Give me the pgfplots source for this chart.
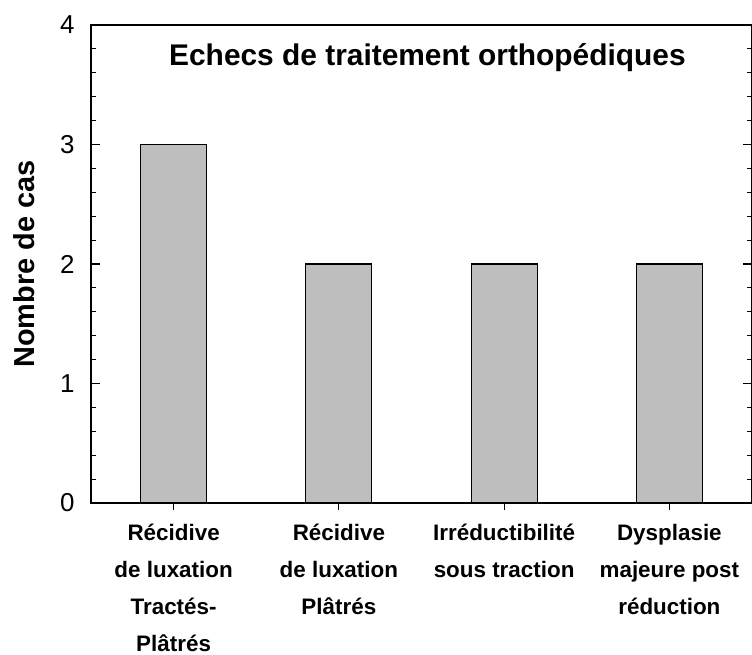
\documentclass[border=0pt]{standalone}
\usepackage{pgfplots}
\pgfplotsset{compat=1.18}
\usepackage{fontspec}
\setmainfont{Liberation Sans}
\definecolor{bargray}{RGB}{190,190,190}
\begin{document}
\begin{tikzpicture}
\begin{axis}[
  scale only axis,
  width=661bp, height=478bp,
  xmin=-0.5, xmax=3.5, ymin=0, ymax=4,
  axis line style={line width=1.3pt},
  xtick={0,1,2,3},
  xticklabels={R\'ecidive\\de luxation\\Tract\'es-\\Pl\^atr\'es,
               R\'ecidive\\de luxation\\Pl\^atr\'es,
               Irr\'eductibilit\'e\\sous traction,
               Dysplasie\\majeure post\\r\'eduction},
  xtick pos=bottom,
  ytick={0,1,2,3,4},
  minor y tick num=4,
  ytick pos=both,
  tick align=inside,
  major tick length=9bp,
  minor tick length=5bp,
  tick style={line width=1.1pt, black},
  xtick style={yshift=-7bp},
  /pgf/number format/assume math mode=true,
  yticklabel style={font=\fontsize{26}{28}\selectfont, xshift=-13bp},
  xticklabel style={font=\bfseries\fontsize{22.5}{37}\selectfont, align=center, yshift=-18bp},
  clip=false,
]
\addplot[ybar, bar width=66bp, fill=bargray, draw=black, line width=1.1pt]
  coordinates {(0,3) (1,2) (2,2) (3,2)};
\node[font=\bfseries\fontsize{30}{32}\selectfont] at (rel axis cs:0.509,0.931) {Echecs de traitement orthop\'ediques};
\node[font=\bfseries\fontsize{29}{31}\selectfont, rotate=90] at (rel axis cs:-0.1010,0.5) {Nombre de cas};
\coordinate (SW) at (rel axis cs:0,0);
\coordinate (NE) at (rel axis cs:1,1);
\end{axis}
\pgfresetboundingbox
\useasboundingbox ([shift={(-91bp,-152bp)}]SW) rectangle ([shift={(0bp,25bp)}]NE);
\end{tikzpicture}
\end{document}
